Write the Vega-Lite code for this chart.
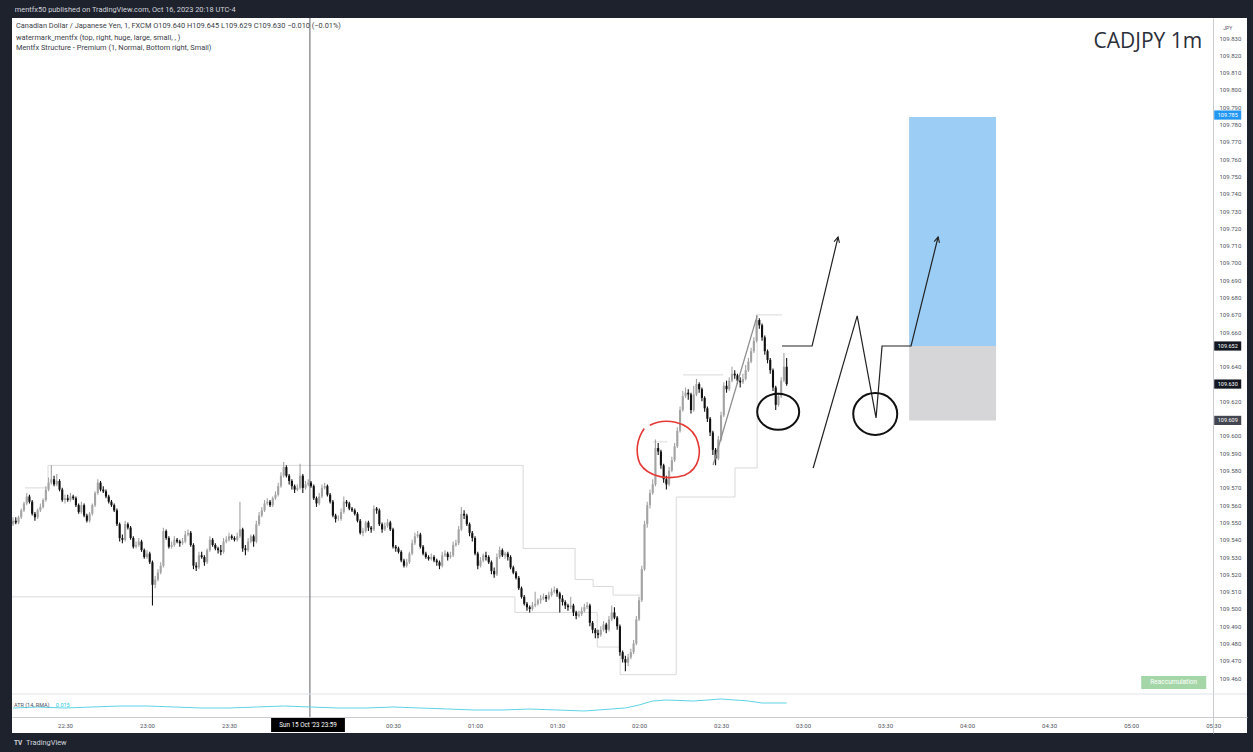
{
  "$schema": "https://vega.github.io/schema/vega-lite/v6.json",
  "width": 1235,
  "height": 715,
  "autosize": {"type": "none"},
  "padding": {"left": 12, "top": 18, "right": 6, "bottom": 19},
  "background": "#1e222d",
  "config": {"view": {"stroke": null, "fill": "#ffffff"}, "font": "Roboto"},
  "datasets": {
    "candles": [
      {"t":"2023-10-15T22:11","o":109.549,"h":109.553,"l":109.548,"c":109.551},
      {"t":"2023-10-15T22:12","o":109.551,"h":109.553,"l":109.549,"c":109.550},
      {"t":"2023-10-15T22:13","o":109.550,"h":109.554,"l":109.549,"c":109.553},
      {"t":"2023-10-15T22:14","o":109.553,"h":109.558,"l":109.552,"c":109.557},
      {"t":"2023-10-15T22:15","o":109.557,"h":109.562,"l":109.556,"c":109.561},
      {"t":"2023-10-15T22:16","o":109.561,"h":109.567,"l":109.560,"c":109.565},
      {"t":"2023-10-15T22:17","o":109.565,"h":109.566,"l":109.561,"c":109.562},
      {"t":"2023-10-15T22:18","o":109.562,"h":109.563,"l":109.554,"c":109.555},
      {"t":"2023-10-15T22:19","o":109.555,"h":109.556,"l":109.551,"c":109.553},
      {"t":"2023-10-15T22:20","o":109.553,"h":109.558,"l":109.552,"c":109.557},
      {"t":"2023-10-15T22:21","o":109.557,"h":109.561,"l":109.556,"c":109.559},
      {"t":"2023-10-15T22:22","o":109.559,"h":109.564,"l":109.558,"c":109.563},
      {"t":"2023-10-15T22:23","o":109.563,"h":109.571,"l":109.562,"c":109.569},
      {"t":"2023-10-15T22:24","o":109.569,"h":109.576,"l":109.568,"c":109.573},
      {"t":"2023-10-15T22:25","o":109.573,"h":109.583,"l":109.572,"c":109.575},
      {"t":"2023-10-15T22:26","o":109.575,"h":109.577,"l":109.571,"c":109.572},
      {"t":"2023-10-15T22:27","o":109.572,"h":109.578,"l":109.571,"c":109.574},
      {"t":"2023-10-15T22:28","o":109.574,"h":109.575,"l":109.568,"c":109.569},
      {"t":"2023-10-15T22:29","o":109.569,"h":109.570,"l":109.562,"c":109.563},
      {"t":"2023-10-15T22:30","o":109.563,"h":109.566,"l":109.561,"c":109.564},
      {"t":"2023-10-15T22:31","o":109.564,"h":109.566,"l":109.562,"c":109.563},
      {"t":"2023-10-15T22:32","o":109.563,"h":109.567,"l":109.562,"c":109.565},
      {"t":"2023-10-15T22:33","o":109.565,"h":109.566,"l":109.563,"c":109.564},
      {"t":"2023-10-15T22:34","o":109.564,"h":109.565,"l":109.559,"c":109.560},
      {"t":"2023-10-15T22:35","o":109.560,"h":109.561,"l":109.555,"c":109.556},
      {"t":"2023-10-15T22:36","o":109.556,"h":109.562,"l":109.555,"c":109.560},
      {"t":"2023-10-15T22:37","o":109.560,"h":109.561,"l":109.553,"c":109.554},
      {"t":"2023-10-15T22:38","o":109.554,"h":109.555,"l":109.550,"c":109.551},
      {"t":"2023-10-15T22:39","o":109.551,"h":109.556,"l":109.550,"c":109.555},
      {"t":"2023-10-15T22:40","o":109.555,"h":109.561,"l":109.554,"c":109.560},
      {"t":"2023-10-15T22:41","o":109.560,"h":109.568,"l":109.559,"c":109.567},
      {"t":"2023-10-15T22:42","o":109.567,"h":109.575,"l":109.566,"c":109.573},
      {"t":"2023-10-15T22:43","o":109.573,"h":109.574,"l":109.568,"c":109.569},
      {"t":"2023-10-15T22:44","o":109.569,"h":109.571,"l":109.567,"c":109.568},
      {"t":"2023-10-15T22:45","o":109.568,"h":109.569,"l":109.564,"c":109.565},
      {"t":"2023-10-15T22:46","o":109.565,"h":109.566,"l":109.561,"c":109.562},
      {"t":"2023-10-15T22:47","o":109.562,"h":109.563,"l":109.559,"c":109.560},
      {"t":"2023-10-15T22:48","o":109.560,"h":109.561,"l":109.556,"c":109.557},
      {"t":"2023-10-15T22:49","o":109.557,"h":109.558,"l":109.548,"c":109.549},
      {"t":"2023-10-15T22:50","o":109.549,"h":109.550,"l":109.539,"c":109.541},
      {"t":"2023-10-15T22:51","o":109.541,"h":109.543,"l":109.538,"c":109.540},
      {"t":"2023-10-15T22:52","o":109.540,"h":109.551,"l":109.539,"c":109.549},
      {"t":"2023-10-15T22:53","o":109.549,"h":109.550,"l":109.546,"c":109.547},
      {"t":"2023-10-15T22:54","o":109.547,"h":109.548,"l":109.540,"c":109.541},
      {"t":"2023-10-15T22:55","o":109.541,"h":109.542,"l":109.535,"c":109.536},
      {"t":"2023-10-15T22:56","o":109.536,"h":109.539,"l":109.535,"c":109.537},
      {"t":"2023-10-15T22:57","o":109.537,"h":109.541,"l":109.536,"c":109.539},
      {"t":"2023-10-15T22:58","o":109.539,"h":109.540,"l":109.533,"c":109.534},
      {"t":"2023-10-15T22:59","o":109.534,"h":109.535,"l":109.529,"c":109.530},
      {"t":"2023-10-15T23:00","o":109.530,"h":109.534,"l":109.529,"c":109.532},
      {"t":"2023-10-15T23:01","o":109.532,"h":109.533,"l":109.526,"c":109.527},
      {"t":"2023-10-15T23:02","o":109.527,"h":109.528,"l":109.502,"c":109.514},
      {"t":"2023-10-15T23:03","o":109.514,"h":109.519,"l":109.512,"c":109.517},
      {"t":"2023-10-15T23:04","o":109.517,"h":109.523,"l":109.516,"c":109.521},
      {"t":"2023-10-15T23:05","o":109.521,"h":109.527,"l":109.520,"c":109.525},
      {"t":"2023-10-15T23:06","o":109.525,"h":109.547,"l":109.524,"c":109.545},
      {"t":"2023-10-15T23:07","o":109.545,"h":109.546,"l":109.540,"c":109.541},
      {"t":"2023-10-15T23:08","o":109.541,"h":109.542,"l":109.535,"c":109.536},
      {"t":"2023-10-15T23:09","o":109.536,"h":109.539,"l":109.535,"c":109.537},
      {"t":"2023-10-15T23:10","o":109.537,"h":109.542,"l":109.536,"c":109.540},
      {"t":"2023-10-15T23:11","o":109.540,"h":109.541,"l":109.538,"c":109.539},
      {"t":"2023-10-15T23:12","o":109.539,"h":109.540,"l":109.536,"c":109.538},
      {"t":"2023-10-15T23:13","o":109.538,"h":109.541,"l":109.537,"c":109.539},
      {"t":"2023-10-15T23:14","o":109.539,"h":109.545,"l":109.538,"c":109.543},
      {"t":"2023-10-15T23:15","o":109.543,"h":109.546,"l":109.542,"c":109.544},
      {"t":"2023-10-15T23:16","o":109.544,"h":109.545,"l":109.536,"c":109.537},
      {"t":"2023-10-15T23:17","o":109.537,"h":109.538,"l":109.523,"c":109.525},
      {"t":"2023-10-15T23:18","o":109.525,"h":109.527,"l":109.522,"c":109.524},
      {"t":"2023-10-15T23:19","o":109.524,"h":109.533,"l":109.523,"c":109.531},
      {"t":"2023-10-15T23:20","o":109.531,"h":109.533,"l":109.529,"c":109.530},
      {"t":"2023-10-15T23:21","o":109.530,"h":109.531,"l":109.525,"c":109.527},
      {"t":"2023-10-15T23:22","o":109.527,"h":109.535,"l":109.526,"c":109.534},
      {"t":"2023-10-15T23:23","o":109.534,"h":109.542,"l":109.533,"c":109.540},
      {"t":"2023-10-15T23:24","o":109.540,"h":109.541,"l":109.536,"c":109.537},
      {"t":"2023-10-15T23:25","o":109.537,"h":109.538,"l":109.534,"c":109.535},
      {"t":"2023-10-15T23:26","o":109.535,"h":109.536,"l":109.532,"c":109.534},
      {"t":"2023-10-15T23:27","o":109.534,"h":109.537,"l":109.531,"c":109.533},
      {"t":"2023-10-15T23:28","o":109.533,"h":109.541,"l":109.532,"c":109.539},
      {"t":"2023-10-15T23:29","o":109.539,"h":109.542,"l":109.538,"c":109.540},
      {"t":"2023-10-15T23:30","o":109.540,"h":109.544,"l":109.539,"c":109.542},
      {"t":"2023-10-15T23:31","o":109.542,"h":109.543,"l":109.540,"c":109.541},
      {"t":"2023-10-15T23:32","o":109.541,"h":109.542,"l":109.539,"c":109.540},
      {"t":"2023-10-15T23:33","o":109.540,"h":109.544,"l":109.539,"c":109.542},
      {"t":"2023-10-15T23:34","o":109.542,"h":109.562,"l":109.541,"c":109.546},
      {"t":"2023-10-15T23:35","o":109.546,"h":109.547,"l":109.533,"c":109.535},
      {"t":"2023-10-15T23:36","o":109.535,"h":109.537,"l":109.531,"c":109.534},
      {"t":"2023-10-15T23:37","o":109.534,"h":109.541,"l":109.533,"c":109.539},
      {"t":"2023-10-15T23:38","o":109.539,"h":109.543,"l":109.538,"c":109.542},
      {"t":"2023-10-15T23:39","o":109.542,"h":109.543,"l":109.536,"c":109.539},
      {"t":"2023-10-15T23:40","o":109.539,"h":109.551,"l":109.538,"c":109.549},
      {"t":"2023-10-15T23:41","o":109.549,"h":109.556,"l":109.548,"c":109.554},
      {"t":"2023-10-15T23:42","o":109.554,"h":109.559,"l":109.553,"c":109.557},
      {"t":"2023-10-15T23:43","o":109.557,"h":109.563,"l":109.556,"c":109.561},
      {"t":"2023-10-15T23:44","o":109.561,"h":109.564,"l":109.560,"c":109.562},
      {"t":"2023-10-15T23:45","o":109.562,"h":109.563,"l":109.559,"c":109.560},
      {"t":"2023-10-15T23:46","o":109.560,"h":109.565,"l":109.559,"c":109.564},
      {"t":"2023-10-15T23:47","o":109.564,"h":109.568,"l":109.563,"c":109.566},
      {"t":"2023-10-15T23:48","o":109.566,"h":109.573,"l":109.565,"c":109.571},
      {"t":"2023-10-15T23:49","o":109.571,"h":109.579,"l":109.570,"c":109.577},
      {"t":"2023-10-15T23:50","o":109.577,"h":109.585,"l":109.576,"c":109.582},
      {"t":"2023-10-15T23:51","o":109.582,"h":109.583,"l":109.576,"c":109.577},
      {"t":"2023-10-15T23:52","o":109.577,"h":109.578,"l":109.572,"c":109.574},
      {"t":"2023-10-15T23:53","o":109.574,"h":109.575,"l":109.569,"c":109.571},
      {"t":"2023-10-15T23:54","o":109.571,"h":109.572,"l":109.567,"c":109.569},
      {"t":"2023-10-15T23:55","o":109.569,"h":109.572,"l":109.568,"c":109.570},
      {"t":"2023-10-15T23:56","o":109.570,"h":109.584,"l":109.569,"c":109.577},
      {"t":"2023-10-15T23:57","o":109.577,"h":109.578,"l":109.567,"c":109.570},
      {"t":"2023-10-15T23:58","o":109.570,"h":109.574,"l":109.569,"c":109.572},
      {"t":"2023-10-15T23:59","o":109.572,"h":109.575,"l":109.571,"c":109.573},
      {"t":"2023-10-16T00:00","o":109.573,"h":109.574,"l":109.570,"c":109.571},
      {"t":"2023-10-16T00:01","o":109.571,"h":109.572,"l":109.563,"c":109.564},
      {"t":"2023-10-16T00:02","o":109.564,"h":109.565,"l":109.559,"c":109.561},
      {"t":"2023-10-16T00:03","o":109.561,"h":109.567,"l":109.560,"c":109.565},
      {"t":"2023-10-16T00:04","o":109.565,"h":109.572,"l":109.564,"c":109.570},
      {"t":"2023-10-16T00:05","o":109.570,"h":109.573,"l":109.569,"c":109.571},
      {"t":"2023-10-16T00:06","o":109.571,"h":109.572,"l":109.565,"c":109.566},
      {"t":"2023-10-16T00:07","o":109.566,"h":109.567,"l":109.561,"c":109.562},
      {"t":"2023-10-16T00:08","o":109.562,"h":109.563,"l":109.553,"c":109.554},
      {"t":"2023-10-16T00:09","o":109.554,"h":109.555,"l":109.550,"c":109.552},
      {"t":"2023-10-16T00:10","o":109.552,"h":109.554,"l":109.551,"c":109.552},
      {"t":"2023-10-16T00:11","o":109.552,"h":109.558,"l":109.551,"c":109.556},
      {"t":"2023-10-16T00:12","o":109.556,"h":109.565,"l":109.555,"c":109.562},
      {"t":"2023-10-16T00:13","o":109.562,"h":109.563,"l":109.559,"c":109.561},
      {"t":"2023-10-16T00:14","o":109.561,"h":109.562,"l":109.557,"c":109.558},
      {"t":"2023-10-16T00:15","o":109.558,"h":109.559,"l":109.556,"c":109.557},
      {"t":"2023-10-16T00:16","o":109.557,"h":109.558,"l":109.554,"c":109.555},
      {"t":"2023-10-16T00:17","o":109.555,"h":109.556,"l":109.550,"c":109.551},
      {"t":"2023-10-16T00:18","o":109.551,"h":109.552,"l":109.543,"c":109.544},
      {"t":"2023-10-16T00:19","o":109.544,"h":109.547,"l":109.542,"c":109.545},
      {"t":"2023-10-16T00:20","o":109.545,"h":109.551,"l":109.544,"c":109.550},
      {"t":"2023-10-16T00:21","o":109.550,"h":109.551,"l":109.545,"c":109.547},
      {"t":"2023-10-16T00:22","o":109.547,"h":109.548,"l":109.544,"c":109.546},
      {"t":"2023-10-16T00:23","o":109.546,"h":109.560,"l":109.545,"c":109.558},
      {"t":"2023-10-16T00:24","o":109.558,"h":109.559,"l":109.555,"c":109.557},
      {"t":"2023-10-16T00:25","o":109.557,"h":109.558,"l":109.548,"c":109.549},
      {"t":"2023-10-16T00:26","o":109.549,"h":109.550,"l":109.544,"c":109.546},
      {"t":"2023-10-16T00:27","o":109.546,"h":109.550,"l":109.545,"c":109.548},
      {"t":"2023-10-16T00:28","o":109.548,"h":109.552,"l":109.547,"c":109.550},
      {"t":"2023-10-16T00:29","o":109.550,"h":109.551,"l":109.545,"c":109.546},
      {"t":"2023-10-16T00:30","o":109.546,"h":109.547,"l":109.535,"c":109.536},
      {"t":"2023-10-16T00:31","o":109.536,"h":109.537,"l":109.533,"c":109.535},
      {"t":"2023-10-16T00:32","o":109.535,"h":109.536,"l":109.532,"c":109.533},
      {"t":"2023-10-16T00:33","o":109.533,"h":109.534,"l":109.527,"c":109.528},
      {"t":"2023-10-16T00:34","o":109.528,"h":109.529,"l":109.524,"c":109.525},
      {"t":"2023-10-16T00:35","o":109.525,"h":109.529,"l":109.524,"c":109.527},
      {"t":"2023-10-16T00:36","o":109.527,"h":109.533,"l":109.526,"c":109.532},
      {"t":"2023-10-16T00:37","o":109.532,"h":109.540,"l":109.531,"c":109.538},
      {"t":"2023-10-16T00:38","o":109.538,"h":109.544,"l":109.537,"c":109.542},
      {"t":"2023-10-16T00:39","o":109.542,"h":109.545,"l":109.541,"c":109.543},
      {"t":"2023-10-16T00:40","o":109.543,"h":109.544,"l":109.535,"c":109.536},
      {"t":"2023-10-16T00:41","o":109.536,"h":109.537,"l":109.531,"c":109.532},
      {"t":"2023-10-16T00:42","o":109.532,"h":109.533,"l":109.529,"c":109.530},
      {"t":"2023-10-16T00:43","o":109.530,"h":109.531,"l":109.528,"c":109.529},
      {"t":"2023-10-16T00:44","o":109.529,"h":109.532,"l":109.528,"c":109.530},
      {"t":"2023-10-16T00:45","o":109.530,"h":109.531,"l":109.527,"c":109.528},
      {"t":"2023-10-16T00:46","o":109.528,"h":109.529,"l":109.525,"c":109.527},
      {"t":"2023-10-16T00:47","o":109.527,"h":109.528,"l":109.523,"c":109.525},
      {"t":"2023-10-16T00:48","o":109.525,"h":109.533,"l":109.524,"c":109.531},
      {"t":"2023-10-16T00:49","o":109.531,"h":109.534,"l":109.530,"c":109.532},
      {"t":"2023-10-16T00:50","o":109.532,"h":109.533,"l":109.528,"c":109.530},
      {"t":"2023-10-16T00:51","o":109.530,"h":109.533,"l":109.529,"c":109.531},
      {"t":"2023-10-16T00:52","o":109.531,"h":109.539,"l":109.530,"c":109.537},
      {"t":"2023-10-16T00:53","o":109.537,"h":109.540,"l":109.536,"c":109.538},
      {"t":"2023-10-16T00:54","o":109.538,"h":109.548,"l":109.537,"c":109.546},
      {"t":"2023-10-16T00:55","o":109.546,"h":109.559,"l":109.545,"c":109.555},
      {"t":"2023-10-16T00:56","o":109.555,"h":109.557,"l":109.552,"c":109.554},
      {"t":"2023-10-16T00:57","o":109.554,"h":109.555,"l":109.548,"c":109.549},
      {"t":"2023-10-16T00:58","o":109.549,"h":109.550,"l":109.542,"c":109.544},
      {"t":"2023-10-16T00:59","o":109.544,"h":109.545,"l":109.539,"c":109.541},
      {"t":"2023-10-16T01:00","o":109.541,"h":109.542,"l":109.531,"c":109.532},
      {"t":"2023-10-16T01:01","o":109.532,"h":109.533,"l":109.523,"c":109.525},
      {"t":"2023-10-16T01:02","o":109.525,"h":109.530,"l":109.524,"c":109.528},
      {"t":"2023-10-16T01:03","o":109.528,"h":109.532,"l":109.527,"c":109.531},
      {"t":"2023-10-16T01:04","o":109.531,"h":109.533,"l":109.528,"c":109.530},
      {"t":"2023-10-16T01:05","o":109.530,"h":109.531,"l":109.526,"c":109.527},
      {"t":"2023-10-16T01:06","o":109.527,"h":109.528,"l":109.520,"c":109.522},
      {"t":"2023-10-16T01:07","o":109.522,"h":109.524,"l":109.518,"c":109.520},
      {"t":"2023-10-16T01:08","o":109.520,"h":109.532,"l":109.519,"c":109.530},
      {"t":"2023-10-16T01:09","o":109.530,"h":109.536,"l":109.529,"c":109.534},
      {"t":"2023-10-16T01:10","o":109.534,"h":109.535,"l":109.530,"c":109.531},
      {"t":"2023-10-16T01:11","o":109.531,"h":109.533,"l":109.529,"c":109.532},
      {"t":"2023-10-16T01:12","o":109.532,"h":109.533,"l":109.528,"c":109.530},
      {"t":"2023-10-16T01:13","o":109.530,"h":109.531,"l":109.523,"c":109.524},
      {"t":"2023-10-16T01:14","o":109.524,"h":109.525,"l":109.520,"c":109.521},
      {"t":"2023-10-16T01:15","o":109.521,"h":109.522,"l":109.517,"c":109.518},
      {"t":"2023-10-16T01:16","o":109.518,"h":109.519,"l":109.511,"c":109.512},
      {"t":"2023-10-16T01:17","o":109.512,"h":109.513,"l":109.506,"c":109.507},
      {"t":"2023-10-16T01:18","o":109.507,"h":109.508,"l":109.502,"c":109.503},
      {"t":"2023-10-16T01:19","o":109.503,"h":109.504,"l":109.499,"c":109.501},
      {"t":"2023-10-16T01:20","o":109.501,"h":109.502,"l":109.498,"c":109.500},
      {"t":"2023-10-16T01:21","o":109.500,"h":109.504,"l":109.499,"c":109.502},
      {"t":"2023-10-16T01:22","o":109.502,"h":109.510,"l":109.501,"c":109.503},
      {"t":"2023-10-16T01:23","o":109.503,"h":109.506,"l":109.502,"c":109.505},
      {"t":"2023-10-16T01:24","o":109.505,"h":109.508,"l":109.503,"c":109.506},
      {"t":"2023-10-16T01:25","o":109.506,"h":109.509,"l":109.505,"c":109.507},
      {"t":"2023-10-16T01:26","o":109.507,"h":109.508,"l":109.504,"c":109.506},
      {"t":"2023-10-16T01:27","o":109.506,"h":109.510,"l":109.505,"c":109.508},
      {"t":"2023-10-16T01:28","o":109.508,"h":109.512,"l":109.507,"c":109.510},
      {"t":"2023-10-16T01:29","o":109.510,"h":109.513,"l":109.509,"c":109.511},
      {"t":"2023-10-16T01:30","o":109.511,"h":109.512,"l":109.507,"c":109.509},
      {"t":"2023-10-16T01:31","o":109.509,"h":109.510,"l":109.498,"c":109.506},
      {"t":"2023-10-16T01:32","o":109.506,"h":109.508,"l":109.502,"c":109.504},
      {"t":"2023-10-16T01:33","o":109.504,"h":109.505,"l":109.500,"c":109.502},
      {"t":"2023-10-16T01:34","o":109.502,"h":109.503,"l":109.499,"c":109.501},
      {"t":"2023-10-16T01:35","o":109.501,"h":109.507,"l":109.500,"c":109.502},
      {"t":"2023-10-16T01:36","o":109.502,"h":109.503,"l":109.496,"c":109.498},
      {"t":"2023-10-16T01:37","o":109.498,"h":109.499,"l":109.494,"c":109.496},
      {"t":"2023-10-16T01:38","o":109.496,"h":109.499,"l":109.495,"c":109.497},
      {"t":"2023-10-16T01:39","o":109.497,"h":109.501,"l":109.496,"c":109.499},
      {"t":"2023-10-16T01:40","o":109.499,"h":109.503,"l":109.498,"c":109.501},
      {"t":"2023-10-16T01:41","o":109.501,"h":109.504,"l":109.500,"c":109.502},
      {"t":"2023-10-16T01:42","o":109.502,"h":109.503,"l":109.490,"c":109.492},
      {"t":"2023-10-16T01:43","o":109.492,"h":109.493,"l":109.486,"c":109.488},
      {"t":"2023-10-16T01:44","o":109.488,"h":109.489,"l":109.483,"c":109.486},
      {"t":"2023-10-16T01:45","o":109.486,"h":109.488,"l":109.483,"c":109.485},
      {"t":"2023-10-16T01:46","o":109.485,"h":109.490,"l":109.484,"c":109.488},
      {"t":"2023-10-16T01:47","o":109.488,"h":109.493,"l":109.487,"c":109.491},
      {"t":"2023-10-16T01:48","o":109.491,"h":109.492,"l":109.486,"c":109.488},
      {"t":"2023-10-16T01:49","o":109.488,"h":109.496,"l":109.487,"c":109.494},
      {"t":"2023-10-16T01:50","o":109.494,"h":109.502,"l":109.493,"c":109.498},
      {"t":"2023-10-16T01:51","o":109.498,"h":109.501,"l":109.494,"c":109.495},
      {"t":"2023-10-16T01:52","o":109.495,"h":109.496,"l":109.488,"c":109.490},
      {"t":"2023-10-16T01:53","o":109.490,"h":109.491,"l":109.473,"c":109.475},
      {"t":"2023-10-16T01:54","o":109.475,"h":109.476,"l":109.469,"c":109.471},
      {"t":"2023-10-16T01:55","o":109.471,"h":109.473,"l":109.464,"c":109.469},
      {"t":"2023-10-16T01:56","o":109.469,"h":109.474,"l":109.467,"c":109.472},
      {"t":"2023-10-16T01:57","o":109.472,"h":109.477,"l":109.471,"c":109.475},
      {"t":"2023-10-16T01:58","o":109.475,"h":109.482,"l":109.474,"c":109.480},
      {"t":"2023-10-16T01:59","o":109.480,"h":109.496,"l":109.479,"c":109.494},
      {"t":"2023-10-16T02:00","o":109.494,"h":109.507,"l":109.493,"c":109.505},
      {"t":"2023-10-16T02:01","o":109.505,"h":109.525,"l":109.504,"c":109.523},
      {"t":"2023-10-16T02:02","o":109.523,"h":109.551,"l":109.522,"c":109.549},
      {"t":"2023-10-16T02:03","o":109.549,"h":109.562,"l":109.547,"c":109.560},
      {"t":"2023-10-16T02:04","o":109.560,"h":109.569,"l":109.558,"c":109.567},
      {"t":"2023-10-16T02:05","o":109.567,"h":109.575,"l":109.566,"c":109.572},
      {"t":"2023-10-16T02:06","o":109.572,"h":109.598,"l":109.571,"c":109.593},
      {"t":"2023-10-16T02:07","o":109.593,"h":109.596,"l":109.589,"c":109.591},
      {"t":"2023-10-16T02:08","o":109.591,"h":109.592,"l":109.581,"c":109.583},
      {"t":"2023-10-16T02:09","o":109.583,"h":109.584,"l":109.573,"c":109.575},
      {"t":"2023-10-16T02:10","o":109.575,"h":109.577,"l":109.569,"c":109.572},
      {"t":"2023-10-16T02:11","o":109.572,"h":109.582,"l":109.571,"c":109.580},
      {"t":"2023-10-16T02:12","o":109.580,"h":109.588,"l":109.579,"c":109.586},
      {"t":"2023-10-16T02:13","o":109.586,"h":109.596,"l":109.585,"c":109.594},
      {"t":"2023-10-16T02:14","o":109.594,"h":109.605,"l":109.593,"c":109.603},
      {"t":"2023-10-16T02:15","o":109.603,"h":109.617,"l":109.602,"c":109.615},
      {"t":"2023-10-16T02:16","o":109.615,"h":109.626,"l":109.614,"c":109.623},
      {"t":"2023-10-16T02:17","o":109.623,"h":109.628,"l":109.622,"c":109.625},
      {"t":"2023-10-16T02:18","o":109.625,"h":109.627,"l":109.621,"c":109.624},
      {"t":"2023-10-16T02:19","o":109.624,"h":109.625,"l":109.613,"c":109.615},
      {"t":"2023-10-16T02:20","o":109.615,"h":109.629,"l":109.614,"c":109.624},
      {"t":"2023-10-16T02:21","o":109.624,"h":109.633,"l":109.623,"c":109.630},
      {"t":"2023-10-16T02:22","o":109.630,"h":109.631,"l":109.625,"c":109.627},
      {"t":"2023-10-16T02:23","o":109.627,"h":109.628,"l":109.620,"c":109.622},
      {"t":"2023-10-16T02:24","o":109.622,"h":109.623,"l":109.614,"c":109.616},
      {"t":"2023-10-16T02:25","o":109.616,"h":109.617,"l":109.608,"c":109.610},
      {"t":"2023-10-16T02:26","o":109.610,"h":109.611,"l":109.600,"c":109.602},
      {"t":"2023-10-16T02:27","o":109.602,"h":109.603,"l":109.589,"c":109.592},
      {"t":"2023-10-16T02:28","o":109.592,"h":109.593,"l":109.583,"c":109.587},
      {"t":"2023-10-16T02:29","o":109.587,"h":109.600,"l":109.586,"c":109.598},
      {"t":"2023-10-16T02:30","o":109.598,"h":109.614,"l":109.597,"c":109.612},
      {"t":"2023-10-16T02:31","o":109.612,"h":109.631,"l":109.611,"c":109.629},
      {"t":"2023-10-16T02:32","o":109.629,"h":109.632,"l":109.625,"c":109.627},
      {"t":"2023-10-16T02:33","o":109.627,"h":109.634,"l":109.626,"c":109.632},
      {"t":"2023-10-16T02:34","o":109.632,"h":109.640,"l":109.631,"c":109.636},
      {"t":"2023-10-16T02:35","o":109.636,"h":109.638,"l":109.633,"c":109.635},
      {"t":"2023-10-16T02:36","o":109.635,"h":109.636,"l":109.630,"c":109.632},
      {"t":"2023-10-16T02:37","o":109.632,"h":109.634,"l":109.628,"c":109.631},
      {"t":"2023-10-16T02:38","o":109.631,"h":109.636,"l":109.630,"c":109.633},
      {"t":"2023-10-16T02:39","o":109.633,"h":109.641,"l":109.632,"c":109.638},
      {"t":"2023-10-16T02:40","o":109.638,"h":109.645,"l":109.637,"c":109.643},
      {"t":"2023-10-16T02:41","o":109.643,"h":109.651,"l":109.642,"c":109.649},
      {"t":"2023-10-16T02:42","o":109.649,"h":109.657,"l":109.648,"c":109.655},
      {"t":"2023-10-16T02:43","o":109.655,"h":109.670,"l":109.654,"c":109.667},
      {"t":"2023-10-16T02:44","o":109.667,"h":109.668,"l":109.662,"c":109.664},
      {"t":"2023-10-16T02:45","o":109.664,"h":109.665,"l":109.655,"c":109.657},
      {"t":"2023-10-16T02:46","o":109.657,"h":109.658,"l":109.647,"c":109.649},
      {"t":"2023-10-16T02:47","o":109.649,"h":109.650,"l":109.642,"c":109.644},
      {"t":"2023-10-16T02:48","o":109.644,"h":109.645,"l":109.636,"c":109.638},
      {"t":"2023-10-16T02:49","o":109.638,"h":109.639,"l":109.626,"c":109.628},
      {"t":"2023-10-16T02:50","o":109.628,"h":109.629,"l":109.615,"c":109.618},
      {"t":"2023-10-16T02:51","o":109.618,"h":109.625,"l":109.617,"c":109.623},
      {"t":"2023-10-16T02:52","o":109.623,"h":109.634,"l":109.622,"c":109.632},
      {"t":"2023-10-16T02:53","o":109.632,"h":109.648,"l":109.631,"c":109.640},
      {"t":"2023-10-16T02:54","o":109.640,"h":109.645,"l":109.629,"c":109.630}
    ],
    "atr": [
      {"t":"2023-10-15T22:11","v":0.010},{"t":"2023-10-15T22:20","v":0.011},{"t":"2023-10-15T22:30","v":0.010},
      {"t":"2023-10-15T22:40","v":0.011},{"t":"2023-10-15T22:50","v":0.012},{"t":"2023-10-15T23:00","v":0.012},
      {"t":"2023-10-15T23:10","v":0.011},{"t":"2023-10-15T23:20","v":0.010},{"t":"2023-10-15T23:30","v":0.010},
      {"t":"2023-10-15T23:40","v":0.011},{"t":"2023-10-15T23:50","v":0.012},{"t":"2023-10-16T00:00","v":0.011},
      {"t":"2023-10-16T00:10","v":0.010},{"t":"2023-10-16T00:20","v":0.010},{"t":"2023-10-16T00:30","v":0.011},
      {"t":"2023-10-16T00:40","v":0.010},{"t":"2023-10-16T00:50","v":0.009},{"t":"2023-10-16T01:00","v":0.008},
      {"t":"2023-10-16T01:10","v":0.008},{"t":"2023-10-16T01:20","v":0.009},{"t":"2023-10-16T01:30","v":0.008},
      {"t":"2023-10-16T01:40","v":0.007},{"t":"2023-10-16T01:50","v":0.009},{"t":"2023-10-16T01:55","v":0.010},
      {"t":"2023-10-16T02:00","v":0.013},{"t":"2023-10-16T02:05","v":0.017},{"t":"2023-10-16T02:10","v":0.018},
      {"t":"2023-10-16T02:20","v":0.017},{"t":"2023-10-16T02:30","v":0.019},{"t":"2023-10-16T02:40","v":0.017},
      {"t":"2023-10-16T02:45","v":0.015},{"t":"2023-10-16T02:54","v":0.015}
    ],
    "structure": [
      {"seg":"A","i":1,"t":"2023-10-15T22:15:24","p":109.570},
      {"seg":"A","i":2,"t":"2023-10-15T22:23:48","p":109.570},
      {"seg":"A","i":3,"t":"2023-10-15T22:23:48","p":109.583},
      {"seg":"A","i":4,"t":"2023-10-16T01:17:36","p":109.583},
      {"seg":"A","i":5,"t":"2023-10-16T01:17:36","p":109.535},
      {"seg":"A","i":6,"t":"2023-10-16T01:36:36","p":109.535},
      {"seg":"A","i":7,"t":"2023-10-16T01:36:36","p":109.517},
      {"seg":"A","i":8,"t":"2023-10-16T01:43:12","p":109.517},
      {"seg":"A","i":9,"t":"2023-10-16T01:43:12","p":109.513},
      {"seg":"A","i":10,"t":"2023-10-16T01:50:30","p":109.513},
      {"seg":"A","i":11,"t":"2023-10-16T01:50:30","p":109.508},
      {"seg":"A","i":12,"t":"2023-10-16T02:00:24","p":109.508},
      {"seg":"C","i":1,"t":"2023-10-16T02:05:06","p":109.5966},
      {"seg":"C","i":2,"t":"2023-10-16T02:10:18","p":109.5966},
      {"seg":"D","i":1,"t":"2023-10-16T02:16:06","p":109.6353},
      {"seg":"D","i":2,"t":"2023-10-16T02:30:48","p":109.6353},
      {"seg":"B","i":1,"t":"2023-10-15T22:10:36","p":109.507},
      {"seg":"B","i":2,"t":"2023-10-16T01:14:36","p":109.507},
      {"seg":"B","i":3,"t":"2023-10-16T01:14:36","p":109.498},
      {"seg":"B","i":4,"t":"2023-10-16T01:44:42","p":109.498},
      {"seg":"B","i":5,"t":"2023-10-16T01:44:42","p":109.478},
      {"seg":"B","i":6,"t":"2023-10-16T01:53:06","p":109.478},
      {"seg":"B","i":7,"t":"2023-10-16T01:53:06","p":109.462},
      {"seg":"B","i":8,"t":"2023-10-16T02:13:36","p":109.462},
      {"seg":"B","i":9,"t":"2023-10-16T02:13:36","p":109.5647},
      {"seg":"B","i":10,"t":"2023-10-16T02:35:06","p":109.5647},
      {"seg":"B","i":11,"t":"2023-10-16T02:35:06","p":109.5815},
      {"seg":"B","i":12,"t":"2023-10-16T02:43:12","p":109.5815},
      {"seg":"B","i":13,"t":"2023-10-16T02:43:12","p":109.670},
      {"seg":"B","i":14,"t":"2023-10-16T02:52:18","p":109.670}
    ],
    "drawing": [
      {"seg":"arrow1","i":1,"t":"2023-10-16T02:52:18","p":109.652},
      {"seg":"arrow1","i":2,"t":"2023-10-16T03:03:18","p":109.652},
      {"seg":"arrow1","i":3,"t":"2023-10-16T03:12:48","p":109.715},
      {"seg":"arrow2","i":1,"t":"2023-10-16T03:03:42","p":109.5815},
      {"seg":"arrow2","i":2,"t":"2023-10-16T03:19:48","p":109.6694},
      {"seg":"arrow2","i":3,"t":"2023-10-16T03:26:42","p":109.6104},
      {"seg":"arrow2","i":4,"t":"2023-10-16T03:28:54","p":109.652},
      {"seg":"arrow2","i":5,"t":"2023-10-16T03:39:30","p":109.652},
      {"seg":"arrow2","i":6,"t":"2023-10-16T03:49:24","p":109.715}
    ]
  },
  "resolve": {"scale": {"y": "independent"}},
  "layer": [
    {
      "layer": [
        {
          "data": {"values": [{"kind":"target","t1":"2023-10-16T03:38:48","t2":"2023-10-16T04:10:36","p1":109.652,"p2":109.7844},{"kind":"stop","t1":"2023-10-16T03:38:48","t2":"2023-10-16T04:10:36","p1":109.609,"p2":109.652}]},
          "mark": {"type": "rect"},
          "encoding": {
            "x": {"field": "t1", "type": "temporal"},
            "x2": {"field": "t2"},
            "y": {"field": "p1", "type": "quantitative"},
            "y2": {"field": "p2"},
            "color": {"condition": {"test": "datum.kind === 'target'", "value": "#9ccdf4"}, "value": "#d6d6d8"}
          }
        },
        {
          "data": {"name": "structure"},
          "mark": {"type": "line", "color": "#d9d9d9", "strokeWidth": 1},
          "encoding": {
            "x": {"field": "t", "type": "temporal"},
            "y": {"field": "p", "type": "quantitative"},
            "detail": {"field": "seg"},
            "order": {"field": "i"}
          }
        },
        {
          "data": {"values": [{}]},
          "mark": {"type": "rule", "color": "#5d606b", "strokeWidth": 1},
          "encoding": {
            "x": {"datum": {"year":2023,"month":10,"date":15,"hours":23,"minutes":59,"seconds":36}, "type": "temporal"},
            "y": {"datum": 109.8416, "type": "quantitative"},
            "y2": {"datum": 109.4376}
          }
        },
        {
          "data": {"name": "candles"},
          "mark": {"type": "rule", "strokeWidth": 1.1},
          "encoding": {
            "x": {"field": "t", "type": "temporal"},
            "y": {"field": "l", "type": "quantitative"},
            "y2": {"field": "h"},
            "color": {"condition": {"test": "datum.c >= datum.o", "value": "#a3a3a3"}, "value": "#111111"}
          }
        },
        {
          "data": {"name": "candles"},
          "mark": {"type": "bar", "size": 2.1},
          "encoding": {
            "x": {
              "field": "t", "type": "temporal",
              "scale": {"domain": [{"year":2023,"month":10,"date":15,"hours":22,"minutes":10,"seconds":37},{"year":2023,"month":10,"date":16,"hours":5,"minutes":42,"seconds":24}], "nice": false, "padding": 0},
              "axis": {
                "orient": "bottom", "offset": -16, "title": null, "format": "%H:%M", "tickCount": 100,
                "values": [
                  {"year":2023,"month":10,"date":15,"hours":22,"minutes":30},
                  {"year":2023,"month":10,"date":15,"hours":23,"minutes":0},
                  {"year":2023,"month":10,"date":15,"hours":23,"minutes":30},
                  {"year":2023,"month":10,"date":16,"hours":0,"minutes":30},
                  {"year":2023,"month":10,"date":16,"hours":1,"minutes":0},
                  {"year":2023,"month":10,"date":16,"hours":1,"minutes":30},
                  {"year":2023,"month":10,"date":16,"hours":2,"minutes":0},
                  {"year":2023,"month":10,"date":16,"hours":2,"minutes":30},
                  {"year":2023,"month":10,"date":16,"hours":3,"minutes":0},
                  {"year":2023,"month":10,"date":16,"hours":3,"minutes":30},
                  {"year":2023,"month":10,"date":16,"hours":4,"minutes":0},
                  {"year":2023,"month":10,"date":16,"hours":4,"minutes":30},
                  {"year":2023,"month":10,"date":16,"hours":5,"minutes":0},
                  {"year":2023,"month":10,"date":16,"hours":5,"minutes":30}
                ],
                "ticks": false, "grid": false, "domainColor": "#c9cbd1", "labelFontSize": 6, "labelColor": "#50535e",
                "labelPadding": 5, "labelFlush": false, "labelOverlap": false, "labelFont": "Roboto"
              }
            },
            "y": {
              "field": "o", "type": "quantitative",
              "scale": {"domain": [109.4283, 109.8416], "nice": false, "zero": false, "padding": 0},
              "axis": {
                "orient": "right", "offset": -34, "title": null, "format": ".3f", "tickCount": 100,
                "values": [109.46,109.47,109.48,109.49,109.50,109.51,109.52,109.53,109.54,109.55,109.56,109.57,109.58,109.59,109.60,109.62,109.64,109.66,109.67,109.68,109.69,109.70,109.71,109.72,109.73,109.74,109.75,109.76,109.77,109.78,109.79,109.80,109.81,109.82,109.83],
                "ticks": false, "grid": false, "domainColor": "#c9cbd1", "labelFontSize": 6, "labelColor": "#50535e",
                "labelPadding": 6, "labelFlush": false, "labelOverlap": false, "labelFont": "Roboto"
              }
            },
            "y2": {"field": "c"},
            "color": {"condition": {"test": "datum.c >= datum.o", "value": "#a3a3a3"}, "value": "#111111"}
          }
        },
        {
          "data": {"values": [{"i":1,"t":"2023-10-16T02:27:06","p":109.5832},{"i":2,"t":"2023-10-16T02:43:12","p":109.6694}]},
          "mark": {"type": "line", "color": "#8f8f8f", "strokeWidth": 1.3},
          "encoding": {
            "x": {"field": "t", "type": "temporal"},
            "y": {"field": "p", "type": "quantitative"},
            "order": {"field": "i"}
          }
        },
        {
          "data": {"name": "drawing"},
          "mark": {"type": "line", "color": "#222222", "strokeWidth": 1.2},
          "encoding": {
            "x": {"field": "t", "type": "temporal"},
            "y": {"field": "p", "type": "quantitative"},
            "detail": {"field": "seg"},
            "order": {"field": "i"}
          }
        },
        {
          "data": {"values": [{"t":"2023-10-16T03:12:48","p":109.715},{"t":"2023-10-16T03:49:24","p":109.715}]},
          "mark": {"type": "point", "shape": "M-1,2L0,0L1,2", "filled": false, "stroke": "#222222", "strokeWidth": 1.1, "size": 30, "angle": 13.5, "opacity": 1},
          "encoding": {
            "x": {"field": "t", "type": "temporal"},
            "y": {"field": "p", "type": "quantitative"}
          }
        },
        {
          "data": {"values": [{"t":"2023-10-16T02:50:54","p":109.614}]},
          "mark": {"type": "point", "shape": "M1,0C1,0.473 0.552,0.857 0,0.857C-0.552,0.857 -1,0.473 -1,0C-1,-0.473 -0.552,-0.857 0,-0.857C0.552,-0.857 1,-0.473 1,0Z", "filled": false, "stroke": "#111111", "strokeWidth": 2, "size": 1764, "opacity": 1},
          "encoding": {
            "x": {"field": "t", "type": "temporal"},
            "y": {"field": "p", "type": "quantitative"}
          }
        },
        {
          "data": {"values": [{"t":"2023-10-16T03:26:24","p":109.6127}]},
          "mark": {"type": "point", "shape": "M1,0C1,0.525 0.552,0.95 0,0.95C-0.552,0.95 -1,0.525 -1,0C-1,-0.525 -0.552,-0.95 0,-0.95C0.552,-0.95 1,-0.525 1,0Z", "filled": false, "stroke": "#111111", "strokeWidth": 2, "size": 1936, "opacity": 1},
          "encoding": {
            "x": {"field": "t", "type": "temporal"},
            "y": {"field": "p", "type": "quantitative"}
          }
        },
        {
          "data": {"values": [{"t":"2023-10-16T02:10:36","p":109.5925}]},
          "mark": {"type": "point", "shape": "M-0.72,-0.62C-0.95,-0.3 -1,0.1 -0.85,0.45C-0.6,0.85 0,0.95 0.5,0.8C0.95,0.6 1.05,0.1 0.85,-0.35C0.6,-0.85 -0.1,-0.95 -0.55,-0.72", "filled": false, "stroke": "#e53935", "strokeWidth": 1.6, "size": 4356, "opacity": 1},
          "encoding": {
            "x": {"field": "t", "type": "temporal"},
            "y": {"field": "p", "type": "quantitative"}
          }
        },
        {
          "data": {"values": [{}]},
          "mark": {"type": "rect", "color": "#a5d6a7"},
          "encoding": {
            "x": {"datum": {"year":2023,"month":10,"date":16,"hours":5,"minutes":3,"seconds":42}, "type": "temporal"},
            "x2": {"datum": {"year":2023,"month":10,"date":16,"hours":5,"minutes":27,"seconds":30}},
            "y": {"datum": 109.4613, "type": "quantitative"},
            "y2": {"datum": 109.4538}
          }
        },
        {
          "data": {"values": [{"t":"2023-10-16T05:15:36","p":109.4576,"txt":"Reaccumulation"}]},
          "mark": {"type": "text", "color": "#ffffff", "fontSize": 6.5, "align": "center", "baseline": "middle", "font": "Roboto"},
          "encoding": {
            "x": {"field": "t", "type": "temporal"},
            "y": {"field": "p", "type": "quantitative"},
            "text": {"field": "txt"}
          }
        },
        {
          "data": {"values": [{"t":"2023-10-16T05:26:00","p":109.828,"txt":"CADJPY 1m"}]},
          "mark": {"type": "text", "color": "#2a2e39", "fontSize": 21, "align": "right", "baseline": "middle", "font": "Open Sans", "fontWeight": 500},
          "encoding": {
            "x": {"field": "t", "type": "temporal"},
            "y": {"field": "p", "type": "quantitative"},
            "text": {"field": "txt"}
          }
        },
        {
          "data": {"values": [
            {"t":"2023-10-15T22:12:04","p":109.837,"txt":"Canadian Dollar / Japanese Yen, 1, FXCM  O109.640  H109.645  L109.629  C109.630  −0.010 (−0.01%)"},
            {"t":"2023-10-15T22:12:04","p":109.830,"txt":"watermark_mentfx (top, right, huge, large, small, , )"},
            {"t":"2023-10-15T22:12:04","p":109.824,"txt":"Mentfx Structure - Premium (1, Normal, Bottom right, Small)"}
          ]},
          "mark": {"type": "text", "color": "#3b3e47", "fontSize": 7.4, "align": "left", "baseline": "middle", "font": "Roboto"},
          "encoding": {
            "x": {"field": "t", "type": "temporal"},
            "y": {"field": "p", "type": "quantitative"},
            "text": {"field": "txt"}
          }
        },
        {
          "data": {"values": [
            {"t":"2023-10-15T22:11:40","p":109.846,"txt":"mentfx50 published on TradingView.com, Oct 16, 2023 20:18 UTC-4"},
            {"t":"2023-10-15T22:15:44","p":109.4225,"txt":"TradingView"}
          ]},
          "mark": {"type": "text", "color": "#d1d4dc", "fontSize": 7.4, "align": "left", "baseline": "middle", "font": "Roboto"},
          "encoding": {
            "x": {"field": "t", "type": "temporal"},
            "y": {"field": "p", "type": "quantitative"},
            "text": {"field": "txt"}
          }
        },
        {
          "data": {"values": [{"t":"2023-10-15T22:11:20","p":109.4225,"txt":"TV"}]},
          "mark": {"type": "text", "color": "#d1d4dc", "fontSize": 6.5, "fontWeight": "bold", "align": "left", "baseline": "middle", "font": "Roboto"},
          "encoding": {
            "x": {"field": "t", "type": "temporal"},
            "y": {"field": "p", "type": "quantitative"},
            "text": {"field": "txt"}
          }
        },
        {
          "data": {"values": [{"t":"2023-10-16T05:35:21","p":109.836,"txt":"JPY"}]},
          "mark": {"type": "text", "color": "#50535e", "fontSize": 5, "align": "center", "baseline": "middle", "font": "Roboto"},
          "encoding": {
            "x": {"field": "t", "type": "temporal"},
            "y": {"field": "p", "type": "quantitative"},
            "text": {"field": "txt"}
          }
        },
        {
          "data": {"values": [
            {"kind":"target","p":109.7855,"txt":"109.785"},
            {"kind":"entry","p":109.652,"txt":"109.652"},
            {"kind":"last","p":109.630,"txt":"109.630"},
            {"kind":"stop","p":109.609,"txt":"109.609"}
          ]},
          "layer": [
            {
              "mark": {"type": "point", "shape": "M-1,-0.34L1,-0.34L1,0.34L-1,0.34Z", "filled": true, "size": 729, "opacity": 1},
              "encoding": {
                "x": {"datum": {"year":2023,"month":10,"date":16,"hours":5,"minutes":35,"seconds":21}, "type": "temporal"},
                "y": {"field": "p", "type": "quantitative"},
                "color": {"condition": [{"test": "datum.kind === 'target'", "value": "#2196f3"}, {"test": "datum.kind === 'stop'", "value": "#434651"}], "value": "#131722"}
              }
            },
            {
              "mark": {"type": "text", "color": "#ffffff", "fontSize": 5.5, "align": "center", "baseline": "middle", "font": "Roboto"},
              "encoding": {
                "x": {"datum": {"year":2023,"month":10,"date":16,"hours":5,"minutes":35,"seconds":21}, "type": "temporal"},
                "y": {"field": "p", "type": "quantitative"},
                "text": {"field": "txt"}
              }
            }
          ]
        },
        {
          "data": {"values": [{"txt":"Sun 15 Oct '23   23:59"}]},
          "layer": [
            {
              "mark": {"type": "rect", "color": "#000000"},
              "encoding": {
                "x": {"datum": {"year":2023,"month":10,"date":15,"hours":23,"minutes":45,"seconds":24}, "type": "temporal"},
                "x2": {"datum": {"year":2023,"month":10,"date":16,"hours":0,"minutes":12,"seconds":24}},
                "y": {"datum": 109.437, "type": "quantitative"},
                "y2": {"datum": 109.4289}
              }
            },
            {
              "mark": {"type": "text", "color": "#ffffff", "fontSize": 6.3, "align": "center", "baseline": "middle", "font": "Roboto"},
              "encoding": {
                "x": {"datum": {"year":2023,"month":10,"date":15,"hours":23,"minutes":58,"seconds":55}, "type": "temporal"},
                "y": {"datum": 109.433, "type": "quantitative"},
                "text": {"field": "txt"}
              }
            }
          ]
        }
      ]
    },
    {
      "layer": [
        {
          "data": {"values": [{}]},
          "mark": {"type": "rule", "color": "#e0e3eb", "strokeWidth": 1},
          "encoding": {
            "y": {"datum": 0.024, "type": "quantitative", "scale": {"domain": [-0.015, 0.700], "nice": false, "zero": false}, "axis": null}
          }
        },
        {
          "data": {"name": "atr"},
          "mark": {"type": "line", "color": "#5fd3e6", "strokeWidth": 1, "interpolate": "linear"},
          "encoding": {
            "x": {"field": "t", "type": "temporal"},
            "y": {"field": "v", "type": "quantitative", "axis": null}
          }
        },
        {
          "data": {"values": [{"t":"2023-10-15T22:11:20","v":0.013,"txt":"ATR (14, RMA)"}]},
          "mark": {"type": "text", "color": "#50535e", "fontSize": 5.5, "align": "left", "baseline": "middle", "font": "Roboto"},
          "encoding": {
            "x": {"field": "t", "type": "temporal"},
            "y": {"field": "v", "type": "quantitative", "axis": null},
            "text": {"field": "txt"}
          }
        },
        {
          "data": {"values": [{"t":"2023-10-15T22:26:40","v":0.013,"txt":"0.015"}]},
          "mark": {"type": "text", "color": "#26c6da", "fontSize": 5.5, "align": "left", "baseline": "middle", "font": "Roboto"},
          "encoding": {
            "x": {"field": "t", "type": "temporal"},
            "y": {"field": "v", "type": "quantitative", "axis": null},
            "text": {"field": "txt"}
          }
        }
      ]
    }
  ]
}
